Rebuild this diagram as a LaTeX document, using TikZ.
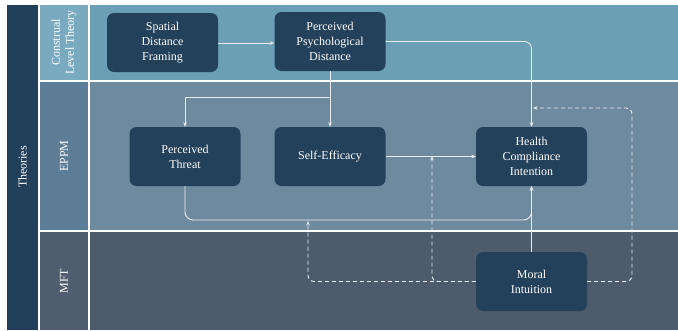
\documentclass[tikz,border=0pt]{standalone}
\usepackage{fontspec}
\setmainfont{Liberation Serif}
\usetikzlibrary{arrows.meta}
\definecolor{cltmain}{RGB}{106,159,182}
\definecolor{cltlab}{RGB}{121,170,192}
\definecolor{eppmmain}{RGB}{110,138,159}
\definecolor{eppmlab}{RGB}{93,124,150}
\definecolor{mftmain}{RGB}{77,91,109}
\definecolor{mftlab}{RGB}{79,93,110}
\definecolor{theo}{RGB}{35,64,90}
\definecolor{boxc}{RGB}{36,65,91}
\definecolor{linec}{RGB}{232,238,242}
\tikzset{
  box/.style={fill=boxc, rounded corners=7pt, minimum width=111pt, minimum height=59pt,
    text=white, align=center, font=\fontsize{12}{15}\selectfont, inner sep=0pt},
  lab/.style={text=white, align=center, rotate=90, font=\fontsize{12}{14}\selectfont},
  arr/.style={draw=linec, line width=0.9pt, -{Stealth[length=4.5pt,width=3.5pt]}},
  darr/.style={draw=linec, line width=0.9pt, dash pattern=on 4pt off 3pt, -{Stealth[length=4.5pt,width=3.5pt]}}
}
\begin{document}
\begin{tikzpicture}[x=1pt,y=-1pt]
\useasboundingbox (0,0) rectangle (678,330);
\fill[white] (0,0) rectangle (678,330);
% bands
\fill[theo] (7,5) rectangle (38,330);
\fill[cltlab] (40,5) rectangle (88,80);
\fill[cltmain] (90,5) rectangle (678,80);
\fill[eppmlab] (40,82) rectangle (88,230);
\fill[eppmmain] (90,82) rectangle (678,230);
\fill[mftlab] (40,232) rectangle (88,330);
\fill[mftmain] (90,232) rectangle (678,330);
% labels
\node[lab] (theories) at (22.5,167) {Theories};
\node[lab] (clt) at (64,42.5) {Construal\\Level Theory};
\node[lab] (eppm) at (64,156) {EPPM};
\node[lab] (mft) at (64,281) {MFT};
% nodes
\node[box] (sdf) at (162.5,42.5) {Spatial\\Distance\\Framing};
\node[box] (ppd) at (330,41.5) {Perceived\\Psychological\\Distance};
\node[box] (pt) at (185,156.5) {Perceived\\Threat};
\node[box] (se) at (330,156.5) {Self-Efficacy};
\node[box] (hci) at (531.5,156.5) {Health\\Compliance\\Intention};
\node[box] (mi) at (531.5,281.5) {Moral\\Intuition};
% coordinates
\coordinate (br) at (330,97);
\coordinate (low) at (0,220);
\coordinate (m1) at (432,156);
\coordinate (m2) at (308,221);
\coordinate (m3r) at (632,108);
\coordinate (m3) at (533,108);
% solid connectors
\draw[arr] (sdf.east |- 0,43) -- (ppd.west |- 0,43);
\draw[arr, rounded corners=7pt] (ppd.east) -| (hci.north);
\draw[arr] (ppd.south) -- (se.north);
\draw[arr] (br) -| (pt.north);
\draw[arr] (se.east) -- (hci.west |- se.east);
\draw[arr, rounded corners=8pt] (pt.south) |- (low -| hci.south) -- (hci.south);
\draw[arr] (mi.north) -- (hci.south);
% dashed connectors
\draw[darr, rounded corners=6pt] (mi.west) -| (m1);
\draw[darr, rounded corners=6pt] (mi.west) -| (m2);
\draw[darr, rounded corners=6pt] (mi.east) -| (m3r) -- (m3);
\end{tikzpicture}
\end{document}
